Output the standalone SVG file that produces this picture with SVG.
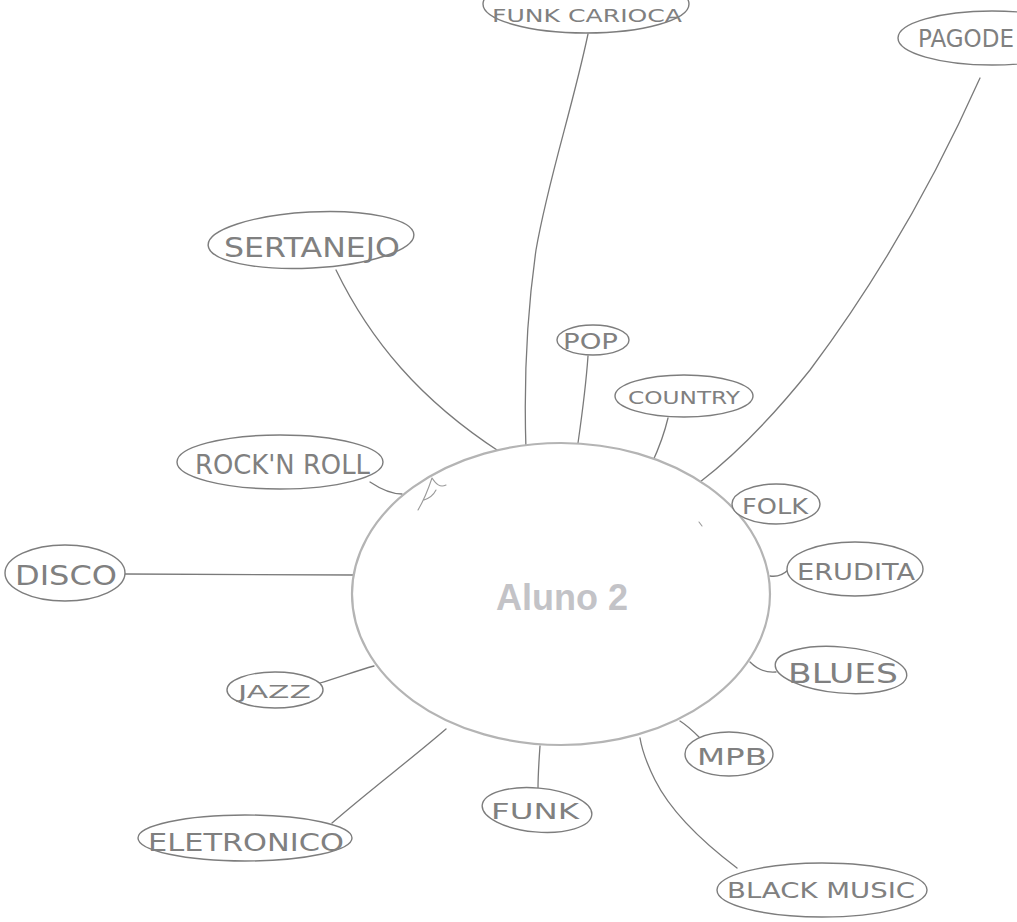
<svg xmlns="http://www.w3.org/2000/svg" width="1017" height="922" viewBox="0 0 1017 922">
  <style>
    .bubble { fill: #ffffff; stroke: #7d7d7d; stroke-width: 1.4; }
    .hub { fill: #ffffff; stroke: #b4b4b4; stroke-width: 2.2; }
    .lbl { font-family: "DejaVu Sans", "Liberation Sans", sans-serif; fill: #808080; font-weight: normal; }
    .wire { fill: none; stroke: #7a7a7a; stroke-width: 1.3; stroke-linecap: round; }
    .mark { fill: none; stroke: #9a9a9a; stroke-width: 1.1; stroke-linecap: round; }
    .title { font-family: "Liberation Sans", Arial, sans-serif; font-weight: bold; fill: #c3c3c7; }
  </style>
  <rect width="1017" height="922" fill="#ffffff"/>

  <!-- connectors between the hub and each genre bubble -->
  <g id="connectors">
    <path class="wire" d="M588,34 C572,110 548,180 536,250 C526,320 524,390 526,450"/>
    <path class="wire" d="M980,78 C930,190 870,290 810,370 C770,420 735,455 700,482"/>
    <path class="wire" d="M336,270 C370,340 420,400 500,452"/>
    <path class="wire" d="M588,356 C586,385 582,415 578,443"/>
    <path class="wire" d="M668,418 C664,435 658,450 652,463"/>
    <path class="wire" d="M370,482 C382,490 392,494 402,494"/>
    <path class="wire" d="M125,574 L353,575"/>
    <path class="wire" d="M733,504 C734,508 735,512 736,516"/>
    <path class="wire" d="M770,576 C777,577 783,575 788,570"/>
    <path class="wire" d="M750,662 C758,670 766,673 776,672"/>
    <path class="wire" d="M320,683 C340,677 356,671 374,666"/>
    <path class="wire" d="M332,823 C370,790 410,760 446,729"/>
    <path class="wire" d="M538,789 C538,775 539,760 540,746"/>
    <path class="wire" d="M700,738 C694,732 688,726 680,721"/>
    <path class="wire" d="M737,868 C700,840 670,810 655,780 C647,764 642,750 640,738"/>
  </g>

  <!-- central hub -->
  <g id="hub">
    <ellipse class="hub" cx="561" cy="594" rx="209" ry="151"/>
    <path class="mark" d="M418,510 C424,500 428,490 432,478 M432,478 C436,484 440,488 446,485 M424,500 C430,498 434,494 436,490"/>
    <path class="mark" d="M699,522 L702,526"/>
    <text class="title" x="562" y="610" font-size="36" text-anchor="middle">Aluno 2</text>
  </g>

  <g id="node-funk-carioca">
    <ellipse class="bubble" cx="586" cy="4" rx="103" ry="29"/>
    <text class="lbl" x="492" y="22" font-size="17" textLength="190" lengthAdjust="spacingAndGlyphs">FUNK CARIOCA</text>
  </g>

  <g id="node-pagode">
    <ellipse class="bubble" cx="992" cy="38" rx="94" ry="27"/>
    <text class="lbl" x="918" y="47" font-size="24" textLength="96" lengthAdjust="spacingAndGlyphs">PAGODE</text>
  </g>

  <g id="node-sertanejo">
    <ellipse class="bubble" cx="311" cy="240" rx="103" ry="28" transform="rotate(-3 311 240)"/>
    <text class="lbl" x="224" y="257" font-size="26" textLength="176" lengthAdjust="spacingAndGlyphs">SERTANEJO</text>
  </g>

  <g id="node-pop">
    <ellipse class="bubble" cx="593" cy="340" rx="36" ry="15"/>
    <text class="lbl" x="563" y="349" font-size="21" textLength="55" lengthAdjust="spacingAndGlyphs">POP</text>
  </g>

  <g id="node-country">
    <ellipse class="bubble" cx="684" cy="396" rx="69" ry="21"/>
    <text class="lbl" x="628" y="404" font-size="18" textLength="112" lengthAdjust="spacingAndGlyphs">COUNTRY</text>
  </g>

  <g id="node-rock">
    <ellipse class="bubble" cx="280" cy="462" rx="103" ry="27"/>
    <text class="lbl" x="195" y="474" font-size="26" textLength="175" lengthAdjust="spacingAndGlyphs">ROCK'N ROLL</text>
  </g>

  <g id="node-disco">
    <ellipse class="bubble" cx="65" cy="573" rx="60" ry="28"/>
    <text class="lbl" x="15" y="585" font-size="27" textLength="102" lengthAdjust="spacingAndGlyphs">DISCO</text>
  </g>

  <g id="node-folk">
    <ellipse class="bubble" cx="776" cy="504" rx="44" ry="20"/>
    <text class="lbl" x="742" y="514" font-size="21" textLength="66" lengthAdjust="spacingAndGlyphs">FOLK</text>
  </g>

  <g id="node-erudita">
    <ellipse class="bubble" cx="855" cy="569" rx="68" ry="27"/>
    <text class="lbl" x="797" y="580" font-size="23" textLength="118" lengthAdjust="spacingAndGlyphs">ERUDITA</text>
  </g>

  <g id="node-blues">
    <ellipse class="bubble" cx="841" cy="670" rx="66" ry="23" transform="rotate(5 841 670)"/>
    <text class="lbl" x="788" y="683" font-size="27" textLength="110" lengthAdjust="spacingAndGlyphs">BLUES</text>
  </g>

  <g id="node-jazz">
    <ellipse class="bubble" cx="275" cy="690" rx="48" ry="18"/>
    <text class="lbl" x="238" y="698" font-size="18" textLength="73" lengthAdjust="spacingAndGlyphs">JAZZ</text>
  </g>

  <g id="node-eletronico">
    <ellipse class="bubble" cx="245" cy="838" rx="107" ry="23"/>
    <text class="lbl" x="148" y="851" font-size="24" textLength="196" lengthAdjust="spacingAndGlyphs">ELETRONICO</text>
  </g>

  <g id="node-funk">
    <ellipse class="bubble" cx="537" cy="810" rx="55" ry="22" transform="rotate(5 537 810)"/>
    <text class="lbl" x="491" y="819" font-size="22" textLength="88" lengthAdjust="spacingAndGlyphs">FUNK</text>
  </g>

  <g id="node-mpb">
    <ellipse class="bubble" cx="729" cy="754" rx="44" ry="22"/>
    <text class="lbl" x="697" y="765" font-size="23" textLength="70" lengthAdjust="spacingAndGlyphs">MPB</text>
  </g>

  <g id="node-black-music">
    <ellipse class="bubble" cx="822" cy="890" rx="105" ry="27"/>
    <text class="lbl" x="727" y="898" font-size="22" textLength="188" lengthAdjust="spacingAndGlyphs">BLACK MUSIC</text>
  </g>
</svg>
